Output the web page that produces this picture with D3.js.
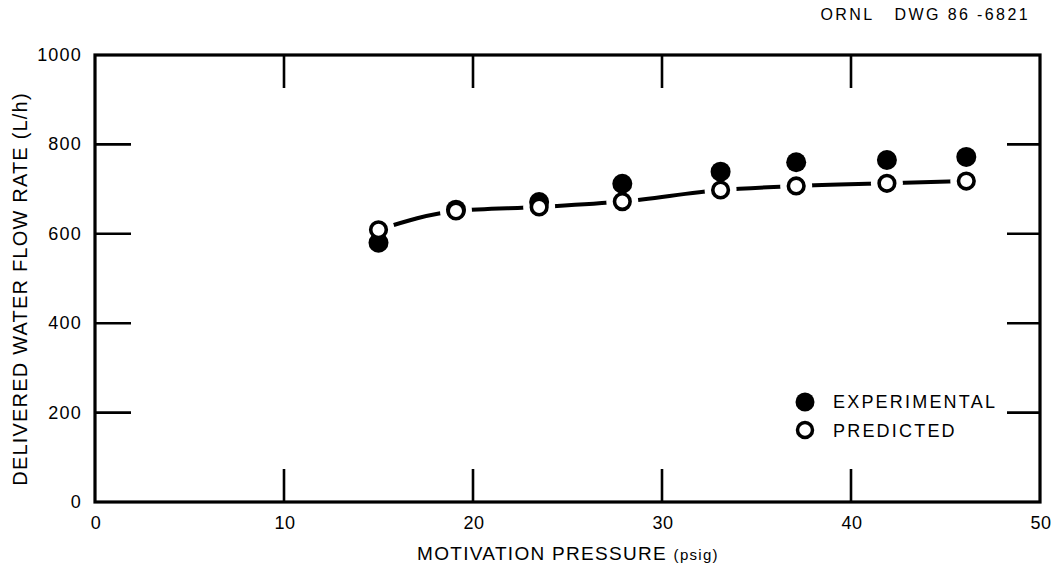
<!DOCTYPE html>
<html>
<head>
<meta charset="utf-8">
<script src="https://cdn.jsdelivr.net/npm/d3@7"></script>
<style>
  body { margin: 0; background: #fff; }
  text { font-family: "Liberation Sans", Arial, sans-serif; fill: #000; }
</style>
</head>
<body>
<div id="chart"></div>
<script>
// values
var pressure = [15, 19.1, 23.5, 27.9, 33.1, 37.1, 41.9, 46.1]
var experimental = [580, 654, 671, 712, 739, 760, 765, 772]
var predicted = [609, 651, 660, 672, 698, 707, 713, 718]
var xTicks = [0, 10, 20, 30, 40, 50]
var yTicks = [0, 200, 400, 600, 800, 1000]

var w = 1053, h = 566
var plotLeft = 95, plotRight = 1040, plotTop = 55, plotBottom = 502
var tickLen = 33

var svg = d3.select("#chart").append("svg")
  .attr("width", w).attr("height", h)

var x = d3.scaleLinear().domain([0, 50]).range([plotLeft, plotRight])
var y = d3.scaleLinear().domain([0, 1000]).range([plotBottom, plotTop])

// frame
svg.append("rect")
  .attr("x", plotLeft).attr("y", plotTop)
  .attr("width", plotRight - plotLeft).attr("height", plotBottom - plotTop)
  .attr("fill", "none").attr("stroke", "#000").attr("stroke-width", 3.2)

// inner ticks on all four sides (skip ends)
var innerX = xTicks.slice(1, -1), innerY = yTicks.slice(1, -1)
svg.append("g").selectAll("line").data(innerX).enter().append("line")
  .attr("x1", d => x(d)).attr("x2", d => x(d))
  .attr("y1", plotBottom).attr("y2", plotBottom - tickLen)
  .attr("stroke", "#000").attr("stroke-width", 2.6)
svg.append("g").selectAll("line").data(innerX).enter().append("line")
  .attr("x1", d => x(d)).attr("x2", d => x(d))
  .attr("y1", plotTop).attr("y2", plotTop + tickLen)
  .attr("stroke", "#000").attr("stroke-width", 2.6)
svg.append("g").selectAll("line").data(innerY).enter().append("line")
  .attr("x1", plotLeft).attr("x2", plotLeft + tickLen + 3)
  .attr("y1", d => y(d)).attr("y2", d => y(d))
  .attr("stroke", "#000").attr("stroke-width", 2.6)
svg.append("g").selectAll("line").data(innerY).enter().append("line")
  .attr("x1", plotRight).attr("x2", plotRight - tickLen)
  .attr("y1", d => y(d)).attr("y2", d => y(d))
  .attr("stroke", "#000").attr("stroke-width", 2.6)

// tick labels
svg.append("g").selectAll("text").data(xTicks).enter().append("text")
  .attr("x", d => x(d) + 1).attr("y", 529)
  .attr("text-anchor", "middle")
  .style("font-size", "18px").style("letter-spacing", "0.5px")
  .text(d => d)
svg.append("g").selectAll("text").data(yTicks).enter().append("text")
  .attr("x", 82).attr("y", d => y(d) + 6)
  .attr("text-anchor", "end")
  .style("font-size", "18px").style("letter-spacing", "1.2px")
  .text(d => d)

// axis titles
svg.append("text")
  .attr("x", 568).attr("y", 560)
  .attr("text-anchor", "middle")
  .style("font-size", "19px").style("letter-spacing", "1.3px")
  .html('MOTIVATION PRESSURE <tspan style="font-size:15px">(psig)</tspan>')
svg.append("text")
  .attr("transform", "translate(27,289) rotate(-90)")
  .attr("text-anchor", "middle")
  .style("font-size", "20px").style("letter-spacing", "1.2px")
  .text("DELIVERED WATER FLOW RATE (L/h)")

svg.append("text")
  .attr("x", 1030).attr("y", 20)
  .attr("text-anchor", "end")
  .style("font-size", "16px").style("letter-spacing", "2.4px")
  .style("white-space", "pre")
  .text("ORNL   DWG 86 -6821")

// curve through predicted values, broken around markers
var pts = pressure.map((p, i) => [p, predicted[i]])
var line = d3.line().x(d => x(d[0])).y(d => y(d[1])).curve(d3.curveMonotoneX)
svg.append("path").datum(pts)
  .attr("d", line)
  .attr("fill", "none").attr("stroke", "#000").attr("stroke-width", 4)
svg.append("g").selectAll("circle").data(pts).enter().append("circle")
  .attr("cx", d => x(d[0])).attr("cy", d => y(d[1]))
  .attr("r", 16).attr("fill", "#fff")

// markers
svg.append("g").selectAll("circle").data(pressure).enter().append("circle")
  .attr("cx", d => x(d)).attr("cy", (d, i) => y(experimental[i]))
  .attr("r", 10).attr("fill", "#000")
svg.append("g").selectAll("circle").data(pressure).enter().append("circle")
  .attr("cx", d => x(d)).attr("cy", (d, i) => y(predicted[i]))
  .attr("r", 7.8).attr("fill", "#fff").attr("stroke", "#000").attr("stroke-width", 3.6)

// legend
var legend = svg.append("g")
legend.append("circle").attr("cx", 805).attr("cy", 402).attr("r", 9.5).attr("fill", "#000")
legend.append("circle").attr("cx", 805).attr("cy", 430).attr("r", 7.5)
  .attr("fill", "#fff").attr("stroke", "#000").attr("stroke-width", 3.5)
legend.append("text").attr("x", 833).attr("y", 408)
  .style("font-size", "18px").style("letter-spacing", "2.2px").text("EXPERIMENTAL")
legend.append("text").attr("x", 833).attr("y", 437)
  .style("font-size", "18px").style("letter-spacing", "2.2px").text("PREDICTED")
</script>
</body>
</html>
